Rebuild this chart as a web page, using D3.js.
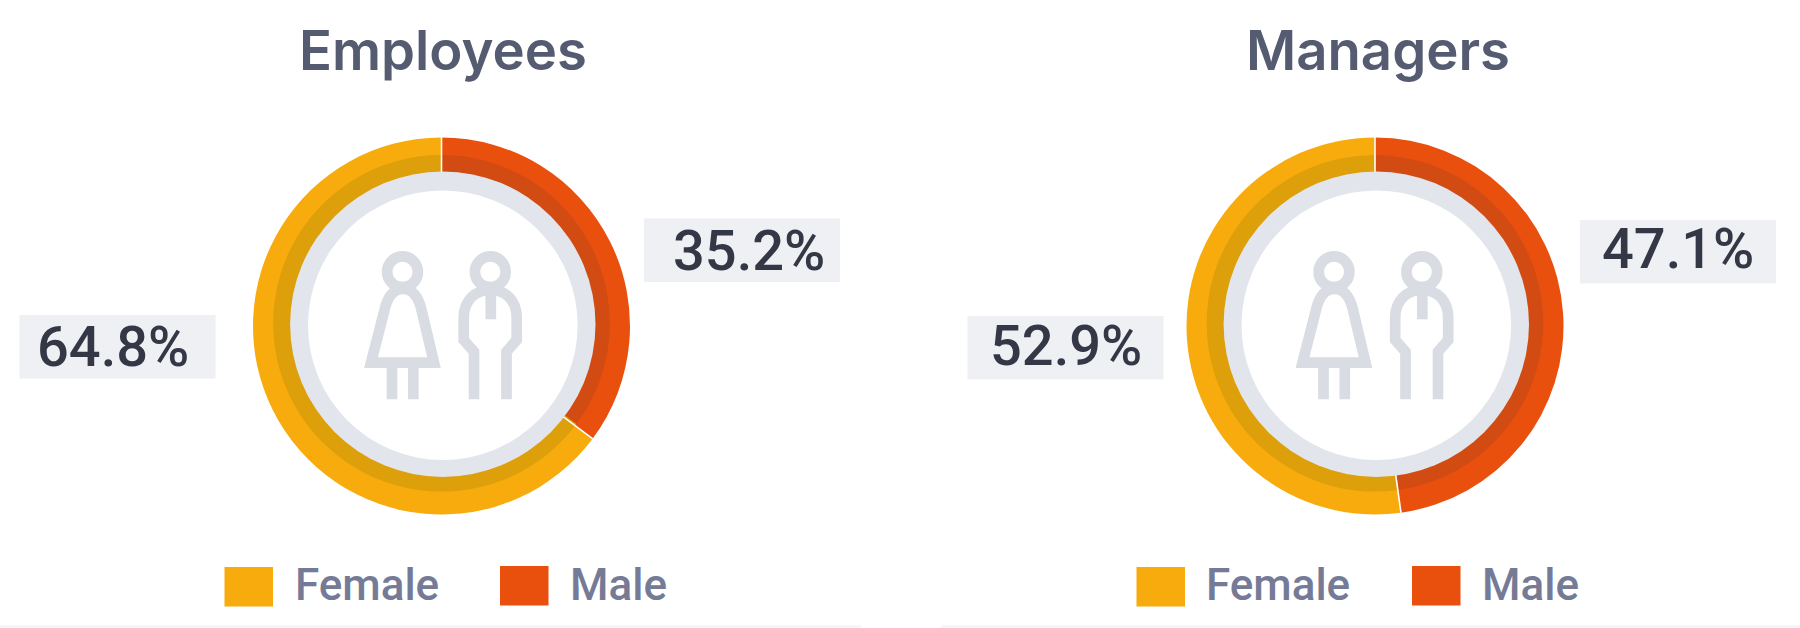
<!DOCTYPE html>
<html>
<head>
<meta charset="utf-8" />
<style>
  html, body {
    margin: 0;
    padding: 0;
    background: #fff;
  }
  svg {
    display: block;
    font-family: Roboto, sans-serif;
  }
  .title {
    font-family: Inter, Roboto, sans-serif;
    font-size: 54.5px;
    font-weight: 600;
    fill: #555b70;
    text-anchor: middle;
  }
  .pct {
    font-size: 56px;
    font-weight: 500;
    fill: #343846;
  }
  .legend-text {
    font-size: 44px;
    font-weight: 500;
    fill: #757b96;
  }
  .icon path, .icon circle {
    fill: none;
    stroke: #d9dce3;
    stroke-width: 10.7px;
  }
</style>
</head>

<body>
  <div id="vis"></div>

  <script src="https://d3js.org/d3.v7.min.js"></script>
  <script>
  // ** DATA **
  var titles = ["Employees", "Managers"];
  var categories = ["Male", "Female"];
  var employeesShare = [35.2, 64.8];
  // the drawn male arc in the picture is a little longer than its 47.1% label
  var managersShare = [47.8, 52.2];
  var employeesLabels = ["35.2%", "64.8%"];
  var managersLabels = ["47.1%", "52.9%"];

  var colors = d3.scaleOrdinal().domain(categories).range(["#e9500e", "#f8ab0c"]);
  var darkColors = d3.scaleOrdinal().domain(categories).range(["#d24b12", "#dd9f0a"]);

  // ** LAYOUT **
  var W = 1800, H = 628;
  var layout = [
    {
      cx: 441.5, iconX: 441.5, titleX: 443,
      boxes: [[644, 218.5], [19.5, 315]],
      text: [[673, 269.5], [37, 365.5]],
      legend: { Female: [224.5, 567, 295], Male: [500, 566, 570] }
    },
    {
      cx: 1375, iconX: 1373, titleX: 1378,
      boxes: [[1580, 220], [967.5, 316]],
      text: [[1602, 268], [990, 364.5]],
      legend: { Female: [1136.5, 567, 1206], Male: [1412, 566, 1482] }
    }
  ];
  var cy = 326;

  // ring radii; the inner circles sit slightly off the donut's centre in the picture
  var outerR = 188.5, darkR = 168.3, grayR = 152.7, whiteR = 134.8;

  var svg = d3.select("#vis").append("svg").attr("width", W).attr("height", H);

  // faint band along the bottom of each panel
  svg.selectAll(".band")
      .data([[0, 861], [941, 859]])
    .enter().append("rect")
      .attr("class", "band")
      .attr("x", function(d) { return d[0]; })
      .attr("y", 625)
      .attr("width", function(d) { return d[1]; })
      .attr("height", 3)
      .attr("fill", "#f5f6f8");

  var pie = d3.pie().sort(null).value(function(d) { return d.value; });
  var outerArc = d3.arc().innerRadius(0).outerRadius(outerR);
  var darkArc = d3.arc().innerRadius(0).outerRadius(darkR);

  function drawIcon(g) {
    g.append("circle").attr("cx", -39).attr("cy", -54.2).attr("r", 15.4);
    g.append("circle").attr("cx", 48.8).attr("cy", -54.2).attr("r", 15.4);
    // female
    g.append("path").attr("d", "M-70.5,36.7 L-57,-16 C-54,-29 -48,-37 -38.5,-37 C-29,-37 -23,-29 -20,-16 L-7.5,36.7 Z");
    g.append("path").attr("d", "M-49.5,36.7 V73.3 M-28.2,36.7 V73.3");
    // male
    g.append("path").attr("d", "M32.5,73.3 V25.7 L22.2,14 V-8 C22.2,-26 34,-36 48.8,-36 C64,-36 75.2,-26 75.2,-8 V14 L65,25.7 V73.3");
    g.append("path").attr("d", "M49.3,-39 V-6.7");
  }

  function drawDonut(i, share, labels) {
    var L = layout[i];
    var data = categories.map(function(c, k) { return { name: c, value: share[k] }; });

    svg.append("text").attr("class", "title")
      .attr("x", L.titleX).attr("y", 69.5)
      .text(titles[i]);

    var g = svg.append("g").attr("transform", "translate(" + L.cx + "," + cy + ")");

    g.selectAll(".outer")
        .data(pie(data))
      .enter().append("path")
        .attr("class", "outer")
        .attr("d", outerArc)
        .attr("fill", function(d) { return colors(d.data.name); });

    g.append("g").attr("transform", "translate(0,-2.7)")
      .selectAll(".inner")
        .data(pie(data))
      .enter().append("path")
        .attr("class", "inner")
        .attr("d", darkArc)
        .attr("fill", function(d) { return darkColors(d.data.name); });

    // thin white cuts between the two slices
    g.selectAll(".cut")
        .data(pie(data))
      .enter().append("line")
        .attr("class", "cut")
        .attr("x1", function(d) { return d3.pointRadial(d.startAngle, 140)[0]; })
        .attr("y1", function(d) { return d3.pointRadial(d.startAngle, 140)[1]; })
        .attr("x2", function(d) { return d3.pointRadial(d.startAngle, 190)[0]; })
        .attr("y2", function(d) { return d3.pointRadial(d.startAngle, 190)[1]; })
        .attr("stroke", "#fff")
        .attr("stroke-width", 1.6);

    g.append("circle").attr("cx", 1.3).attr("cy", -1.8).attr("r", grayR).attr("fill", "#e2e5ec");
    g.append("circle").attr("cx", 1.3).attr("cy", -0.8).attr("r", whiteR).attr("fill", "#fff");

    drawIcon(svg.append("g").attr("class", "icon")
      .attr("transform", "translate(" + L.iconX + "," + cy + ")"));

    // percent labels
    labels.forEach(function(t, k) {
      svg.append("rect")
        .attr("x", L.boxes[k][0]).attr("y", L.boxes[k][1])
        .attr("width", 196).attr("height", 63.5)
        .attr("fill", "#eff0f3");
      svg.append("text").attr("class", "pct")
        .attr("x", L.text[k][0]).attr("y", L.text[k][1])
        .text(t);
    });

    // legend
    ["Female", "Male"].forEach(function(c) {
      var p = L.legend[c];
      svg.append("rect")
        .attr("x", p[0]).attr("y", p[1])
        .attr("width", 48.5).attr("height", 39.5)
        .attr("fill", colors(c));
      svg.append("text").attr("class", "legend-text")
        .attr("x", p[2]).attr("y", 600)
        .text(c);
    });
  }

  drawDonut(0, employeesShare, employeesLabels);
  drawDonut(1, managersShare, managersLabels);
  </script>
</body>
</html>
